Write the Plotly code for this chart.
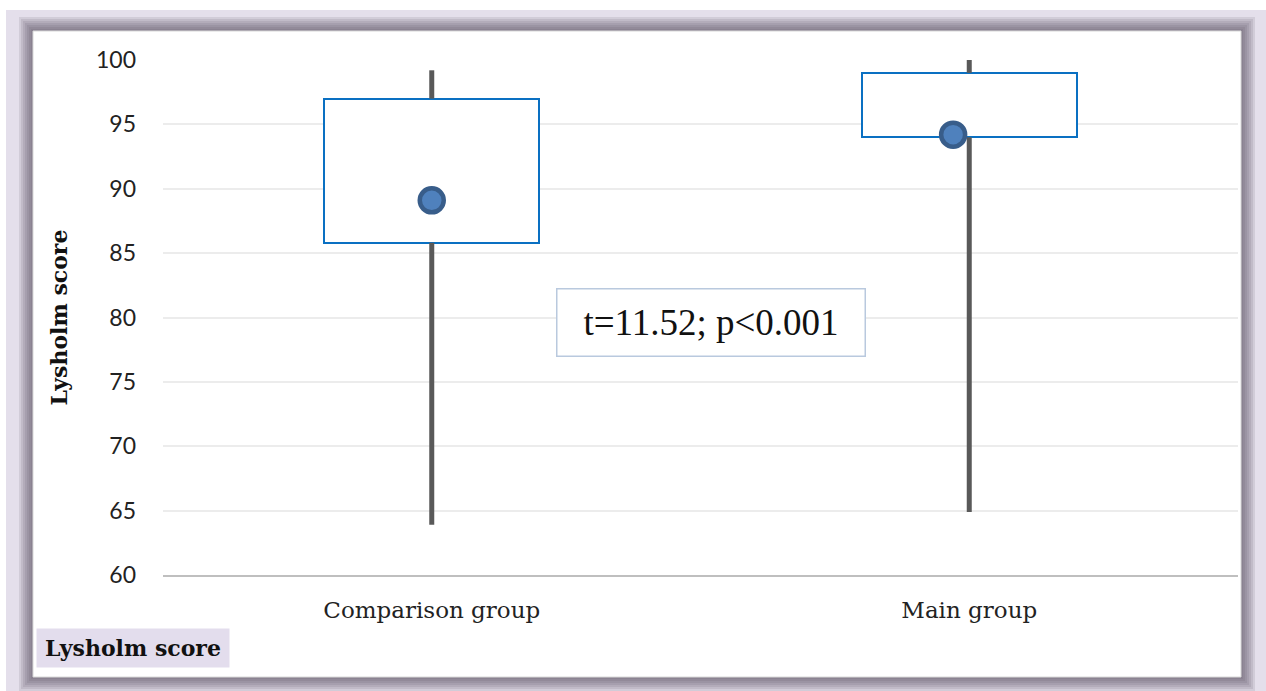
import plotly.graph_objects as go

# Lysholm score summary per group
groups = ["Comparison group", "Main group"]
lower_whisker = [63.9, 64.9]
q1 = [85.8, 94.0]
q3 = [97.0, 99.0]
upper_whisker = [99.2, 100.0]
means = [89.1, 94.2]
y_ticks = [60, 65, 70, 75, 80, 85, 90, 95, 100]
stat_text = "t=11.52; p<0.001"

W, H = 1266, 691
xpos = list(range(len(groups)))
mean_shift = [0.0, -0.03]  # slight horizontal offset of the mean marker


def px_x(p):
    return p / W


def px_y(p):
    return 1 - p / H


fig = go.Figure()

# whiskers: upper and lower segments, outside the box
wx, wy = [], []
for i in xpos:
    wx += [i, i, None, i, i, None]
    wy += [lower_whisker[i], q1[i], None, q3[i], upper_whisker[i], None]
fig.add_trace(go.Scatter(
    x=wx, y=wy, mode="lines",
    line=dict(color="#595959", width=5),
    hoverinfo="skip", showlegend=False,
))

# boxes (interquartile range)
fig.add_trace(go.Bar(
    x=xpos, base=q1, y=[q3[i] - q1[i] for i in xpos],
    width=0.4,
    marker=dict(color="white", line=dict(color="#0a70c2", width=2)),
    showlegend=False,
))

# mean markers
fig.add_trace(go.Scatter(
    x=[xpos[i] + mean_shift[i] for i in xpos], y=means, mode="markers",
    marker=dict(size=24, color="#4f81bd", line=dict(color="#385d8a", width=4.5)),
    showlegend=False,
))

shapes = []
# lavender page area
shapes.append(dict(type="rect", xref="paper", yref="paper",
                   x0=px_x(6), x1=px_x(W), y0=px_y(H), y1=px_y(10),
                   fillcolor="#e4dfeb", line=dict(width=0), layer="below"))
# soft shadow around the white panel
px0, py0, px1, py1 = 33, 31, 1241, 677
for d in [14, 12, 10, 8, 6, 4, 2]:
    shapes.append(dict(type="rect", xref="paper", yref="paper",
                       x0=px_x(px0 - d), x1=px_x(px1 + d),
                       y0=px_y(py1 + d), y1=px_y(py0 - d),
                       fillcolor="#55515b", opacity=0.13,
                       line=dict(width=0), layer="below"))
# white panel
shapes.append(dict(type="rect", xref="paper", yref="paper",
                   x0=px_x(px0), x1=px_x(px1), y0=px_y(py1), y1=px_y(py0),
                   fillcolor="white", line=dict(color="#d8d8d8", width=1),
                   layer="below"))

annotations = [
    dict(x=0.52, y=79.6, xref="x", yref="y", text=stat_text, showarrow=False,
         font=dict(family="Liberation Serif", size=37, color="#111111"),
         bgcolor="white", bordercolor="#b9c9de", borderwidth=1.5,
         width=305, height=64, borderpad=1),
    dict(x=px_x(36), y=px_y(648), xref="paper", yref="paper",
         xanchor="left", yanchor="middle",
         text="<b>Lysholm score</b>", showarrow=False,
         font=dict(family="DejaVu Serif", size=22, color="#111111"),
         bgcolor="#e3dded", width=192, height=38, borderpad=0),
]

fig.update_layout(
    width=W, height=H,
    margin=dict(l=0, r=0, t=0, b=0, autoexpand=False),
    paper_bgcolor="white",
    plot_bgcolor="rgba(0,0,0,0)",
    shapes=shapes,
    annotations=annotations,
    bargap=0,
    xaxis=dict(
        domain=[px_x(163), px_x(1238)],
        range=[-0.5, 1.5],
        tickmode="array", tickvals=xpos, ticktext=groups,
        showgrid=False, zeroline=False, automargin=False,
        showline=True, linecolor="#bfbfbf", linewidth=1.5,
        ticks="", ticklabelstandoff=14,
        tickfont=dict(family="DejaVu Serif", size=23, color="#222222"),
        fixedrange=True,
    ),
    yaxis=dict(
        domain=[1 - 575 / H, 1 - 60 / H],
        range=[60, 100],
        tickmode="array", tickvals=y_ticks,
        showgrid=True, gridcolor="#ececec", gridwidth=1.5,
        zeroline=False, showline=False, ticks="", automargin=False,
        ticklabelstandoff=26,
        tickfont=dict(family="Lato", size=23, color="#222222"),
        title=dict(text="<b>Lysholm score</b>", standoff=22,
                   font=dict(family="DejaVu Serif", size=22, color="#111111")),
        fixedrange=True,
    ),
)

fig.write_html("out.html")
